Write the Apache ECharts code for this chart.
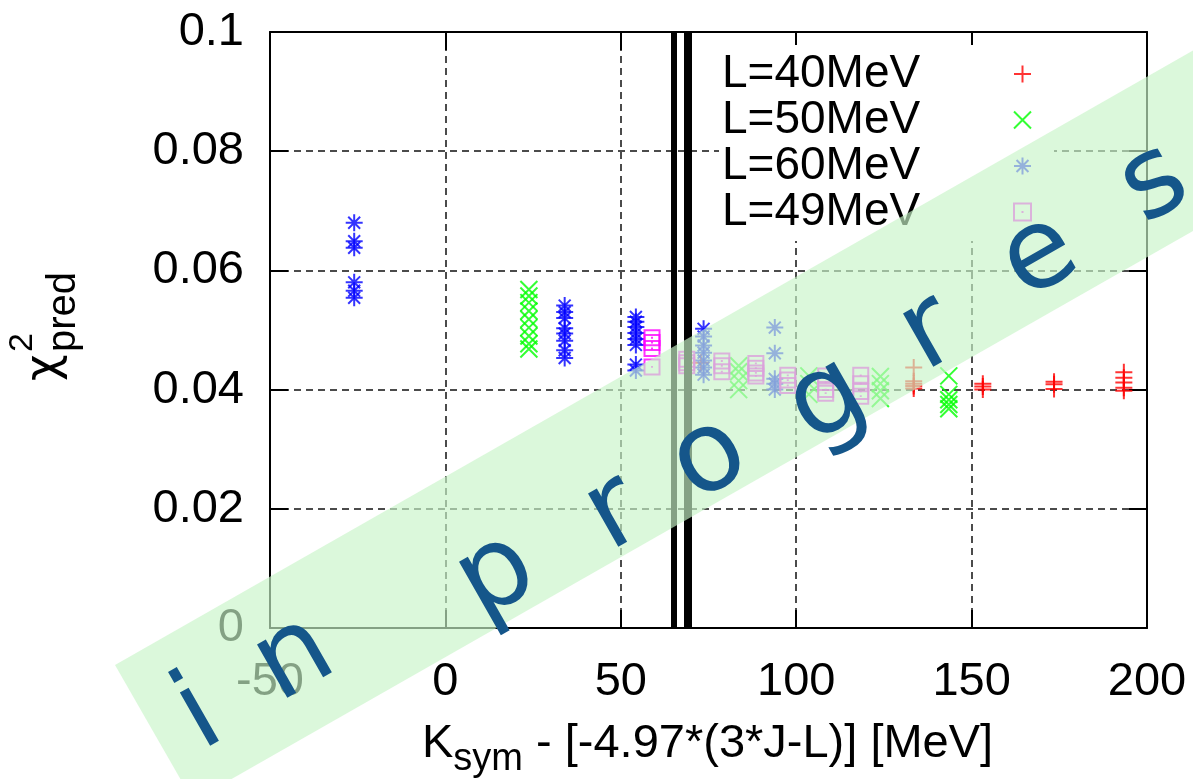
<!DOCTYPE html>
<html>
<head>
<meta charset="utf-8">
<script src="https://cdn.jsdelivr.net/npm/echarts@6/dist/echarts.min.js"></script>
<style>
html, body { margin: 0; padding: 0; background: #fff; }
#chart { width: 1193px; height: 779px; }
</style>
</head>
<body>
<div id="chart"></div>
<script>
// Axis ticks
const xTicks = [-50, 0, 50, 100, 150, 200];
const yTicks = [0, 0.02, 0.04, 0.06, 0.08, 0.1];

// Series names (legend order)
const seriesNames = ['L=40MeV', 'L=50MeV', 'L=60MeV', 'L=49MeV'];

// L=40MeV: x columns and chi^2 values in each column
const l40Cols = [72.8, 133.5, 153.2, 173.5, 193.4];
const l40Vals = [
  [0.0445],
  [0.0437, 0.0414, 0.0410, 0.0406, 0.0402],
  [0.0410, 0.0405, 0.0400],
  [0.0413, 0.0409, 0.0401],
  [0.0429, 0.0420, 0.0412, 0.0403, 0.0398]
];

// L=50MeV
const l50Cols = [23.8, 83.6, 103.6, 124.0, 143.5];
const l50Vals = [
  [0.0568, 0.0557, 0.0546, 0.0532, 0.0518, 0.0504, 0.0490, 0.0477, 0.0468],
  [0.0440, 0.0430, 0.0415, 0.0400],
  [0.0423, 0.0410, 0.0392],
  [0.0422, 0.0410, 0.0398, 0.0385],
  [0.0423, 0.0392, 0.0383, 0.0375, 0.0368]
];

// L=60MeV
const l60Cols = [-26.0, 34.0, 54.3, 73.6, 93.9];
const l60Vals = [
  [0.0680, 0.0649, 0.0638, 0.0580, 0.0566, 0.0554],
  [0.0541, 0.0530, 0.0520, 0.0503, 0.0494, 0.0482, 0.0466, 0.0453],
  [0.0522, 0.0514, 0.0505, 0.0495, 0.0485, 0.0475, 0.0442, 0.0432],
  [0.0502, 0.0489, 0.0474, 0.0462, 0.0449, 0.0437, 0.0425],
  [0.0504, 0.0461, 0.0418, 0.0410, 0.0400]
];

// L=49MeV
const l49Cols = [58.9, 68.8, 78.8, 88.5, 97.6, 108.4, 118.4];
const l49Vals = [
  [0.0487, 0.0479, 0.0469, 0.0438],
  [0.0451, 0.0445, 0.0440],
  [0.0448, 0.0440, 0.0430],
  [0.0444, 0.0436, 0.0428, 0.0423],
  [0.0424, 0.0416, 0.0407],
  [0.0423, 0.0412, 0.0400, 0.0394],
  [0.0424, 0.0410, 0.0397, 0.0389]
];

// Vertical reference lines (x positions)
const refLines = [65, 69];

const FONT = '"Liberation Sans", Arial, Helvetica, sans-serif';

function toPoints(cols, vals) {
  const out = [];
  cols.forEach((x, i) => vals[i].forEach(y => out.push([x, y])));
  return out;
}

// gnuplot-like point shapes
const SYM_PLUS = 'path://M0,5L10,5M5,0L5,10';
const SYM_CROSS = 'path://M0,0L10,10M0,10L10,0';
const SYM_STAR = 'path://M0,5L10,5M5,0L5,10M1.5,1.5L8.5,8.5M1.5,8.5L8.5,1.5';
const SYM_BOX = 'path://M0,0L10,0L10,10L0,10ZM5,4.4L5,5.6';

function pointSeries(name, data, symbol, color, size) {
  return {
    name: name,
    type: 'scatter',
    data: data,
    symbol: symbol,
    symbolSize: size,
    itemStyle: { color: 'rgba(0,0,0,0)', borderColor: color, borderWidth: 2 },
    emphasis: { disabled: true },
    silent: true
  };
}

const chart = echarts.init(document.getElementById('chart'), null, { renderer: 'canvas' });

const fmtY = v => String(Number(v.toFixed(3)));

const baseAxisLine = { show: true, onZero: false, lineStyle: { color: '#000', width: 2 } };
const baseTick = { show: true, inside: true, length: 18, lineStyle: { color: '#000', width: 2 } };

// text width helper for the axis title pieces
const measureCtx = document.createElement('canvas').getContext('2d');
function textWidth(str, size) {
  measureCtx.font = size + 'px "Liberation Sans"';
  return measureCtx.measureText(str).width;
}

// x axis title: K_sym - [-4.97*(3*J-L)] [MeV]
const xtSize = 47, xtSub = 38;
const xtLeft = 422, xtBase = 760;
const wK = textWidth('K', xtSize);
const wSym = textWidth('sym', xtSub);
const midOff = s => 0.3465 * s;

const xTitle = {
  type: 'group',
  z: 50,
  children: [
    { type: 'text', x: xtLeft, y: xtBase - midOff(xtSize),
      style: { text: 'K', font: xtSize + 'px ' + FONT, fill: '#000', align: 'left', verticalAlign: 'middle' } },
    { type: 'text', x: xtLeft + wK, y: xtBase + 13 - midOff(xtSub),
      style: { text: 'sym', font: xtSub + 'px ' + FONT, fill: '#000', align: 'left', verticalAlign: 'middle' } },
    { type: 'text', x: xtLeft + wK + wSym, y: xtBase - midOff(xtSize),
      style: { text: ' - [-4.97*(3*J-L)] [MeV]', font: xtSize + 'px ' + FONT, fill: '#000', align: 'left', verticalAlign: 'middle' } }
  ]
};

// y axis title: chi^2_pred, rotated to read upward
const yTitle = {
  type: 'group',
  x: 61, y: 381,
  rotation: Math.PI / 2,
  z: 50,
  children: [
    { type: 'text', x: 0, y: -midOff(46),
      style: { text: 'χ', font: '46px "DejaVu Sans", sans-serif', fill: '#000', align: 'left', verticalAlign: 'middle' } },
    { type: 'text', x: 29, y: -27 - midOff(34),
      style: { text: '2', font: '34px ' + FONT, fill: '#000', align: 'left', verticalAlign: 'middle' } },
    { type: 'text', x: 29, y: 17 - midOff(40),
      style: { text: 'pred', font: '40px ' + FONT, fill: '#000', align: 'left', verticalAlign: 'middle' } }
  ]
};

// translucent banner across the plot
const bandAngle = Math.atan(0.5704);
const band = {
  type: 'polygon',
  z: 200,
  silent: true,
  shape: { points: [[115, 665], [1320, -22], [1398, 114], [193, 801]] },
  style: { fill: 'rgba(200,245,200,0.66)' }
};

// banner lettering
const bannerLetters = [
  ['i', 200, 718], ['n', 295, 660], ['p', 497, 577], ['r', 615, 515],
  ['o', 710, 460], ['g', 828, 402], ['r', 930, 335], ['e', 1040, 258], ['s', 1155, 185]
];
const letterEls = bannerLetters.map(([ch, cx, cy]) => ({
  type: 'text',
  x: cx, y: cy,
  rotation: bandAngle,
  z: 210,
  silent: true,
  style: {
    text: ch,
    font: '112px "DejaVu Sans", sans-serif',
    fill: '#15568a',
    align: 'center',
    verticalAlign: 'middle'
  }
}));

const option = {
  animation: false,
  backgroundColor: '#fff',
  grid: { left: 270, right: 46, top: 32, bottom: 151, containLabel: false, outerBoundsMode: 'none' },
  xAxis: [
    {
      type: 'value', position: 'bottom',
      min: xTicks[0], max: xTicks[xTicks.length - 1], interval: xTicks[1] - xTicks[0],
      axisLine: baseAxisLine, axisTick: baseTick,
      axisLabel: { show: true, margin: 31, fontSize: 47, fontFamily: FONT, color: '#000' },
      splitLine: { show: true, lineStyle: { color: '#111', width: 1.5, type: [7, 5] } }
    },
    {
      type: 'value', position: 'top',
      min: xTicks[0], max: xTicks[xTicks.length - 1], interval: xTicks[1] - xTicks[0],
      axisLine: baseAxisLine, axisTick: baseTick,
      axisLabel: { show: false }, splitLine: { show: false }
    }
  ],
  yAxis: [
    {
      type: 'value', position: 'left',
      min: yTicks[0], max: yTicks[yTicks.length - 1], interval: yTicks[1] - yTicks[0],
      axisLine: baseAxisLine, axisTick: baseTick,
      axisLabel: { show: true, margin: 26, fontSize: 47, fontFamily: FONT, color: '#000', formatter: fmtY },
      splitLine: { show: true, lineStyle: { color: '#111', width: 1.5, type: [7, 5] } }
    },
    {
      type: 'value', position: 'right',
      min: yTicks[0], max: yTicks[yTicks.length - 1], interval: yTicks[1] - yTicks[0],
      axisLine: baseAxisLine, axisTick: baseTick,
      axisLabel: { show: false }, splitLine: { show: false }
    }
  ],
  legend: {
    data: seriesNames,
    orient: 'vertical',
    left: 719, top: 45,
    align: 'right',
    itemWidth: 17, itemHeight: 17, itemGap: 0,
    selectedMode: false,
    backgroundColor: '#fff',
    padding: [6, 22, 6, 3],
    formatter: n => '{a|' + n + '}',
    textStyle: {
      fontFamily: FONT, fontSize: 46, color: '#000',
      rich: { a: { fontFamily: FONT, fontSize: 46, color: '#000', width: 287, align: 'left', lineHeight: 47 } }
    }
  },
  series: [
    {
      name: 'refLines', type: 'scatter', data: [], silent: true,
      markLine: {
        silent: true, symbol: 'none', animation: false,
        label: { show: false },
        lineStyle: { color: '#000', type: 'solid', width: 6 },
        emphasis: { disabled: true },
        data: refLines.map((v, i) => ({ xAxis: v, lineStyle: { color: '#000', type: 'solid', width: i === 0 ? 6 : 8 } }))
      }
    },
    pointSeries(seriesNames[0], toPoints(l40Cols, l40Vals), SYM_PLUS, '#ff0000', 17),
    pointSeries(seriesNames[1], toPoints(l50Cols, l50Vals), SYM_CROSS, '#00ff00', 17),
    pointSeries(seriesNames[2], toPoints(l60Cols, l60Vals), SYM_STAR, '#0000ff', 17),
    pointSeries(seriesNames[3], toPoints(l49Cols, l49Vals), SYM_BOX, '#ff00ff', 15)
  ],
  graphic: [xTitle, yTitle, band].concat(letterEls)
};

chart.setOption(option);
</script>
</body>
</html>
